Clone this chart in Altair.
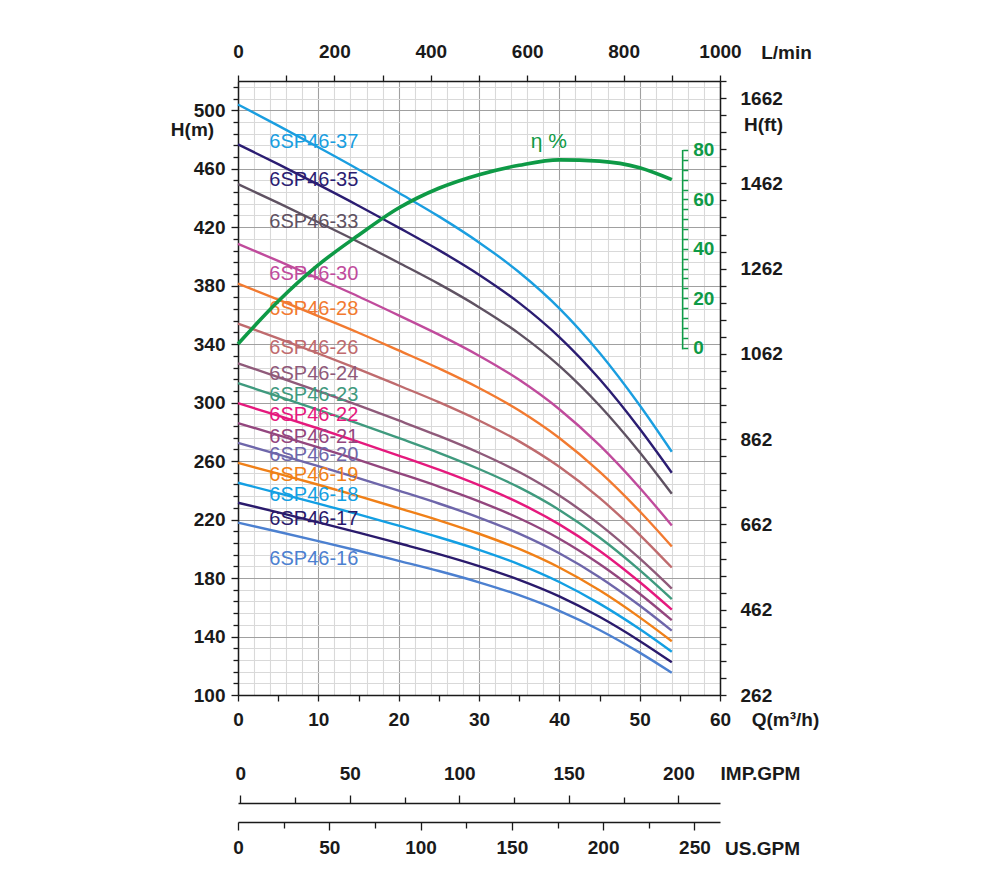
import altair as alt
import pandas as pd

# ---------------- data ----------------
Q_POINTS = [0, 5, 10, 15, 20, 25, 30, 35, 40, 45, 50, 54]

MODELS = ["6SP46-37", "6SP46-35", "6SP46-33", "6SP46-30", "6SP46-28",
          "6SP46-26", "6SP46-24", "6SP46-23", "6SP46-22", "6SP46-21",
          "6SP46-20", "6SP46-19", "6SP46-18", "6SP46-17", "6SP46-16"]

H_37 = [503.9, 489.5, 474.7, 459.5, 443.6, 427.4, 409.6, 389.2, 364.5, 334.1, 298.2, 266.4]
H_35 = [476.7, 463.1, 449.1, 434.7, 419.7, 404.3, 387.5, 368.2, 344.8, 316.1, 282.1, 252.0]
H_33 = [449.5, 436.6, 423.4, 409.9, 395.7, 381.2, 365.3, 347.2, 325.1, 298.0, 266.0, 237.6]
H_30 = [408.6, 396.9, 384.9, 372.6, 359.7, 346.5, 332.1, 315.6, 295.5, 270.9, 241.8, 216.0]
H_28 = [381.4, 370.4, 359.2, 347.8, 335.7, 323.4, 310.0, 294.6, 275.8, 252.8, 225.7, 201.6]
H_26 = [354.1, 344.0, 333.6, 322.9, 311.7, 300.3, 287.8, 273.5, 256.1, 234.8, 209.6, 187.2]
H_24 = [326.9, 317.5, 307.9, 298.1, 287.8, 277.2, 265.7, 252.5, 236.4, 216.7, 193.4, 172.8]
H_23 = [313.3, 304.3, 295.1, 285.7, 275.8, 265.7, 254.6, 242.0, 226.6, 207.7, 185.4, 165.6]
H_22 = [299.6, 291.1, 282.3, 273.2, 263.8, 254.1, 243.5, 231.4, 216.7, 198.7, 177.3, 158.4]
H_21 = [286.0, 277.8, 269.4, 260.8, 251.8, 242.6, 232.5, 220.9, 206.9, 189.6, 169.3, 151.2]
H_20 = [272.4, 264.6, 256.6, 248.4, 239.8, 231.0, 221.4, 210.4, 197.0, 180.6, 161.2, 144.0]
H_19 = [258.8, 251.4, 243.8, 236.0, 227.8, 219.5, 210.3, 199.9, 187.2, 171.6, 153.1, 136.8]
H_18 = [245.2, 238.1, 230.9, 223.6, 215.8, 207.9, 199.3, 189.4, 177.3, 162.5, 145.1, 129.6]
H_17 = [231.5, 224.9, 218.1, 211.1, 203.8, 196.4, 188.2, 178.8, 167.5, 153.5, 137.0, 122.4]
H_16 = [217.9, 211.7, 205.3, 198.7, 191.8, 184.8, 177.1, 168.3, 157.6, 144.5, 129.0, 115.2]

CURVES = [H_37, H_35, H_33, H_30, H_28, H_26, H_24, H_23, H_22, H_21,
          H_20, H_19, H_18, H_17, H_16]

COLORS = ["#1a9ee0", "#2b1d72", "#5f5262", "#c04b9c", "#f27a30",
          "#bf6b6e", "#8f5a7a", "#3f9a7e", "#e5197d", "#93467e",
          "#6e66aa", "#f08018", "#139fe3", "#2a1a6c", "#4c80d0"]

LABEL_Q = [3.9] * 15
LABEL_H = [478.3, 452.1, 423.6, 387.9, 364.2, 337.1, 319.5, 305.1,
           291.5, 276.2, 264.1, 250.4, 236.8, 220.1, 192.8]

EFF = [1.5, 18.8, 33.5, 45.5, 56.5, 64.5, 70.0, 73.8, 76.0, 75.5, 72.8, 68.0]
EFF_AXIS_Q = [55.35]
EFF_AXIS_RANGE = [-0.7, 80]
ETA_Q = [38.7]
ETA_E = [83.2]

# ---------------- styling constants ----------------
FONT = "Liberation Sans"
GREEN = "#0e9a46"
INK = "#1a1a1a"
W, H = 482, 614
Q_DOM = [0, 60]
H_DOM = [100, 520]
FT_DOM = [262, 1702]
EFF_DOM = [-140.5, 107.9]
LMIN_DOM = [0, 1000]
IMP_DOM = [-1, 219]
US_DOM = [0, 264]

rows = []
for m, hs in zip(MODELS, CURVES):
    for q, h in zip(Q_POINTS, hs):
        rows.append({"model": m, "Q": q, "H": h})
df_curves = pd.DataFrame(rows)
df_labels = pd.DataFrame({"model": MODELS, "Q": LABEL_Q, "H": LABEL_H})
df_eff = pd.DataFrame({"Q": Q_POINTS, "eff": EFF})
df_effaxis = pd.DataFrame({"Q": EFF_AXIS_Q, "e0": [EFF_AXIS_RANGE[0]], "e1": [EFF_AXIS_RANGE[1]]})
df_eta = pd.DataFrame({"Q": ETA_Q, "eff": ETA_E, "t": ["η %"]})
df_ft = pd.DataFrame({"lmin": LMIN_DOM, "ft": FT_DOM})
df_imp = pd.DataFrame({"imp": [0]})
df_us = pd.DataFrame({"us": [0]})


def sc(dom):
    return alt.Scale(domain=dom, nice=False, zero=False)


base_axis = dict(
    labelFont=FONT, labelFontSize=19, labelFontWeight="bold", labelColor=INK,
    titleFont=FONT, titleFontSize=19, titleFontWeight="bold", titleColor=INK,
    domainColor=INK, domainWidth=1.5, tickColor=INK, tickWidth=1.3,
    labelFlush=False, labelOverlap=False, labelBound=False, titleAngle=0,
    titleAlign="center", titleBaseline="middle",
)

q_vals = sorted(set(list(range(0, 61, 2)) + list(range(0, 61, 5))))
x_main = alt.X("Q:Q", scale=sc(Q_DOM), axis=alt.Axis(
    orient="bottom", values=q_vals, grid=True,
    gridColor={"condition": {"test": "datum.value % 10 === 0", "value": "#a0a0a0"}, "value": "#d9d9d9"},
    gridOpacity={"condition": {"test": "datum.value % 2 !== 0", "value": 0}, "value": 1},
    gridWidth=1.1,
    tickOpacity={"condition": {"test": "datum.value % 5 !== 0", "value": 0}, "value": 1},
    tickSize=6, labelPadding=9,
    labelExpr="datum.value % 10 === 0 ? datum.label : ''",
    title="Q(m³/h)", titleX=547, titleY=24, **base_axis))

h_vals = [100 + 8 * i for i in range(53)]
y_main = alt.Y("H:Q", scale=sc(H_DOM), axis=alt.Axis(
    orient="left", values=h_vals, grid=True,
    gridColor={"condition": {"test": "(datum.value - 100) % 40 === 0", "value": "#a0a0a0"}, "value": "#d9d9d9"},
    gridWidth=1.1,
    tickSize={"condition": {"test": "(datum.value - 100) % 40 === 0", "value": 7}, "value": 5},
    labelPadding=6,
    labelExpr="(datum.value - 100) % 40 === 0 ? datum.label : ''",
    title="H(m)", titleX=-46, titleY=48, **base_axis))

lines = alt.Chart(df_curves).mark_line(strokeWidth=2.4, interpolate="monotone").encode(
    x=x_main, y=y_main,
    color=alt.Color("model:N", scale=alt.Scale(domain=MODELS, range=COLORS), legend=None),
    detail="model:N",
)

labels = alt.Chart(df_labels).mark_text(
    align="left", baseline="middle", font=FONT, fontSize=20).encode(
    x=alt.X("Q:Q", scale=sc(Q_DOM), axis=None),
    y=alt.Y("H:Q", scale=sc(H_DOM), axis=None),
    text="model:N",
    color=alt.Color("model:N", scale=alt.Scale(domain=MODELS, range=COLORS), legend=None),
)

eff_vals = list(range(0, 81, 4))
eff_line = alt.Chart(df_eff).mark_line(strokeWidth=3.6, interpolate="monotone", color=GREEN).encode(
    x=alt.X("Q:Q", scale=sc(Q_DOM), axis=None),
    y=alt.Y("eff:Q", scale=sc(EFF_DOM), axis=alt.Axis(
        orient="right", offset=-37.3, values=eff_vals, domain=False, grid=False,
        tickColor=GREEN, tickSize=5, tickWidth=1.5,
        labelColor=GREEN, labelFont=FONT, labelFontSize=19, labelFontWeight="bold",
        labelPadding=5, labelFlush=False, labelOverlap=False, labelBound=False,
        labelExpr="datum.value % 20 === 0 ? datum.label : ''",
        title=None)),
)

eff_axis_line = alt.Chart(df_effaxis).mark_rule(color=GREEN, strokeWidth=1.6).encode(
    x=alt.X("Q:Q", scale=sc(Q_DOM), axis=None),
    y=alt.Y("e0:Q", scale=sc(EFF_DOM), axis=None),
    y2="e1:Q",
)

eta = alt.Chart(df_eta).mark_text(
    align="center", baseline="middle", font=FONT, fontSize=21, color=GREEN).encode(
    x=alt.X("Q:Q", scale=sc(Q_DOM), axis=None),
    y=alt.Y("eff:Q", scale=sc(EFF_DOM), axis=None),
    text="t:N",
)

ft_vals = [262 + 40 * i for i in range(37)]
lmin_vals = list(range(0, 1001, 100))
ft_layer = alt.Chart(df_ft).mark_point(opacity=0).encode(
    x=alt.X("lmin:Q", scale=sc(LMIN_DOM), axis=alt.Axis(
        orient="top", values=lmin_vals, grid=False, tickSize=6, labelPadding=14,
        format="d",
        labelExpr="datum.value % 200 === 0 ? datum.label : ''",
        title="L/min", titleX=548, titleY=-29, **base_axis)),
    y=alt.Y("ft:Q", scale=sc(FT_DOM), axis=alt.Axis(
        orient="right", values=ft_vals, grid=False, tickSize=6, labelPadding=14,
        format="d",
        labelExpr="(datum.value - 262) % 200 === 0 ? datum.label : ''",
        title="H(ft)", titleX=43, titleY=43, **base_axis)),
)

imp_vals = list(range(0, 201, 25))
imp_layer = alt.Chart(df_imp).mark_point(opacity=0).encode(
    x=alt.X("imp:Q", scale=sc(IMP_DOM), axis=alt.Axis(
        orient="top", offset=-722, values=imp_vals, grid=False,
        tickSize={"condition": {"test": "datum.value % 50 === 0", "value": 8}, "value": 6},
        labelPadding=12,
        labelExpr="datum.value % 50 === 0 ? datum.label : ''",
        title="IMP.GPM", titleX=522, titleY=-30, **base_axis)),
)

us_vals = list(range(0, 251, 25))
us_layer = alt.Chart(df_us).mark_point(opacity=0).encode(
    x=alt.X("us:Q", scale=sc(US_DOM), axis=alt.Axis(
        orient="bottom", offset=127, values=us_vals, grid=False,
        tickSize={"condition": {"test": "datum.value % 50 === 0", "value": 8}, "value": 6},
        labelPadding=8,
        labelExpr="datum.value % 50 === 0 ? datum.label : ''",
        title="US.GPM", titleX=524, titleY=26, **base_axis)),
)

chart = alt.layer(
    lines, labels, eff_line, eff_axis_line, eta, ft_layer, imp_layer, us_layer
).resolve_scale(x="independent", y="independent").properties(
    width=W, height=H,
    autosize=alt.AutoSizeParams(type="none"),
    padding={"left": 230, "top": 73, "right": 260, "bottom": 180},
    background="white",
).configure_view(strokeWidth=0)

chart.save("out.html", embed_options={"renderer": "svg", "actions": False})
